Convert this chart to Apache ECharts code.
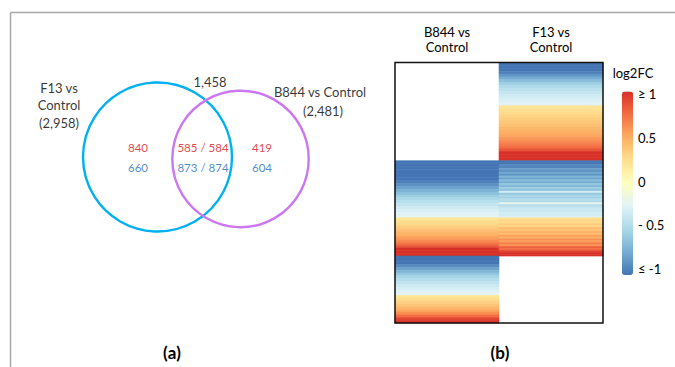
<!DOCTYPE html>
<html>
<head>
<meta charset="utf-8">
<script src="https://cdn.jsdelivr.net/npm/echarts@6/dist/echarts.min.js"></script>
<style>
html,body{margin:0;padding:0;background:#fff;}
#chart{width:675px;height:367px;}
</style>
</head>
<body>
<div id="chart"></div>
<script>
// ---------------- DATA ----------------
// Venn (a): sets and region counts (up = red, down = blue)
const setNames = ['F13 vs Control', 'B844 vs Control'];
const f13OnlyUp = 840, f13OnlyDown = 660;
const sharedUp = [585, 584];      // F13 / B844
const sharedDown = [873, 874];    // F13 / B844
const b844OnlyUp = 419, b844OnlyDown = 604;

// Heatmap (b): columns and sorted log2FC values (binned, read top -> bottom)
const heatColumns = ['B844 vs\nControl', 'F13 vs\nControl'];
// F13-only block, F13 column
const f13Only_F13_down = [-1, -1, -1, -0.95, -0.85, -0.75, -0.65, -0.55, -0.48, -0.42, -0.38, -0.34, -0.3, -0.27, -0.24];
const f13Only_F13_up = [0.22, 0.25, 0.28, 0.31, 0.34, 0.37, 0.4, 0.44, 0.48, 0.52, 0.57, 0.62, 0.68, 0.75, 0.85, 1, 1, 1];
// Shared block, B844 column (sorted)
const shared_B844_down = [-1, -1, -1, -1, -1, -1, -1, -0.95, -0.88, -0.8, -0.72, -0.64, -0.56, -0.5, -0.44, -0.38, -0.33, -0.29, -0.25, -0.22];
const shared_B844_up = [0.22, 0.26, 0.3, 0.35, 0.4, 0.45, 0.5, 0.56, 0.63, 0.72, 0.85, 1, 1, 1];
// Shared block, F13 column (same genes, streaky)
const shared_F13_down = [-1, -1, -0.9, -0.95, -0.8, -0.9, -0.75, -0.85, -0.7, -0.8, -0.65, -0.75, -0.6, -0.7, -0.55, -0.65, -0.3, -0.6, -0.5, -0.55, -0.45, -0.5, -0.2, -0.45, -0.4, -0.35, -0.38, -0.3, -0.32, -0.28];
const shared_F13_up = [0.25, 0.3, 0.28, 0.35, 0.3, 0.45, 0.38, 0.5, 0.42, 0.55, 0.48, 0.62, 0.55, 0.7, 0.6, 0.8, 0.75, 0.9, 1, 1];
// B844-only block, B844 column
const b844Only_B844_down = [-1, -1, -1, -0.9, -0.8, -0.7, -0.6, -0.52, -0.45, -0.4, -0.35, -0.3, -0.26, -0.22];
const b844Only_B844_up = [0.22, 0.27, 0.32, 0.38, 0.45, 0.52, 0.62, 0.75, 0.9, 1];

const legendTickValues = [-1, -0.5, 0, 0.5, 1];
const legendTickLabels = ['\u2264 -1', '- 0.5', '0', '0.5', '\u2265 1'];

// ---------------- BUILD ----------------
const FONT = 'Lato';
const f13Total = f13OnlyUp + f13OnlyDown + sharedUp[0] + sharedDown[0];
const b844Total = b844OnlyUp + b844OnlyDown + sharedUp[1] + sharedDown[1];
const sharedTotal = sharedUp[1] + sharedDown[1];
const fmt = n => n.toLocaleString('en-US');

// heatmap rows
const heatRects = [];
function addSegment(col, start, count, values) {
  const step = count / values.length;
  values.forEach((v, i) => heatRects.push([col, start + i * step, start + (i + 1) * step, v]));
}
let off = 0;
addSegment(1, off, f13OnlyDown, f13Only_F13_down);
addSegment(1, off + f13OnlyDown, f13OnlyUp, f13Only_F13_up);
off += f13OnlyDown + f13OnlyUp;
addSegment(0, off, sharedDown[1], shared_B844_down);
addSegment(0, off + sharedDown[1], sharedUp[1], shared_B844_up);
addSegment(1, off, sharedDown[1], shared_F13_down);
addSegment(1, off + sharedDown[1], sharedUp[1], shared_F13_up);
off += sharedTotal;
addSegment(0, off, b844OnlyDown, b844Only_B844_down);
addSegment(0, off + b844OnlyDown, b844OnlyUp, b844Only_B844_up);
off += b844OnlyDown + b844OnlyUp;
const totalRows = off;

// Venn layout (positions in the venn panel's coordinate space)
const vennLayout = {
  circles: [{ cx: 157.5, cy: 157, color: '#00b0f0' }, { cx: 240.5, cy: 159, color: '#cc77f2' }],
  circleScale: 149 / Math.sqrt(2958)
};
const RED = '#dc1216', BLUE = '#1f6dbd';
const vennLabels = [
  { v: [59, 105], text: 'F13 vs\nControl\n(' + fmt(f13Total) + ')', color: '#000', size: 13, lh: 17.5 },
  { v: [210, 82], text: fmt(sharedTotal), color: '#000', size: 13, lh: 16 },
  { v: [320, 92], text: 'B844 vs Control', color: '#000', size: 13, lh: 16 },
  { v: [323, 111], text: '(' + fmt(b844Total) + ')', color: '#000', size: 13, lh: 16 },
  { v: [138, 147], text: String(f13OnlyUp), color: RED, size: 11.5, lh: 14 },
  { v: [138, 167], text: String(f13OnlyDown), color: BLUE, size: 11.5, lh: 14 },
  { v: [203, 147], text: sharedUp[0] + ' / ' + sharedUp[1], color: RED, size: 11.5, lh: 14 },
  { v: [203, 167], text: sharedDown[0] + ' / ' + sharedDown[1], color: BLUE, size: 11.5, lh: 14 },
  { v: [262, 147], text: String(b844OnlyUp), color: RED, size: 11.5, lh: 14 },
  { v: [262, 167], text: String(b844OnlyDown), color: BLUE, size: 11.5, lh: 14 }
];

const panelLabel = (x, letter) => ({
  type: 'text', x: x, y: 352,
  style: { text: '{n|(}{b|' + letter + '}{n|)}', fontFamily: FONT, textAlign: 'center', textVerticalAlign: 'middle',
    rich: { n: { fontSize: 17, fontWeight: 'bold', fontFamily: FONT, fill: '#000' },
            b: { fontSize: 17, fontWeight: 'bold', fontFamily: FONT, fill: '#000' } } }
});

const chart = echarts.init(document.getElementById('chart'), null, { renderer: 'svg' });
chart.setOption({
  animation: false,
  backgroundColor: '#fff',
  textStyle: { fontFamily: FONT },
  grid: [
    { id: 'heat', left: 395, top: 62.5, width: 208, height: 260.5, show: true, borderColor: '#111', borderWidth: 1.5, backgroundColor: 'transparent', z: 10 },
    { id: 'venn', left: 0, top: 0, width: 675, height: 367 },
    { id: 'leg', left: 633, top: 94, width: 1, height: 175 }
  ],
  xAxis: [
    { gridIndex: 0, type: 'category', data: heatColumns, position: 'top',
      axisLine: { show: false }, axisTick: { show: false }, splitLine: { show: false },
      axisLabel: { margin: 8, fontSize: 13, lineHeight: 15, color: '#000', fontFamily: FONT } },
    { gridIndex: 1, type: 'value', min: 0, max: 675, show: false },
    { gridIndex: 2, type: 'value', min: 0, max: 1, show: false }
  ],
  yAxis: [
    { gridIndex: 0, type: 'value', min: 0, max: totalRows, inverse: true, show: false },
    { gridIndex: 1, type: 'value', min: 0, max: 367, inverse: true, show: false },
    { gridIndex: 2, type: 'value', min: -1, max: 1, interval: 0.5, position: 'right',
      axisLine: { show: false }, axisTick: { show: false }, splitLine: { show: false },
      axisLabel: { margin: 4, fontSize: 13, color: '#000', fontFamily: FONT,
        formatter: v => legendTickLabels[legendTickValues.indexOf(v)] } }
  ],
  visualMap: {
    type: 'continuous', min: -1, max: 1, dimension: 3, seriesIndex: 0,
    calculable: false, left: 622, top: 91.5, itemWidth: 11, itemHeight: 183.5, padding: 0,
    text: null, showLabel: false,
    inRange: { color: ['#4575b4', '#74add1', '#abd9e9', '#e0f3f8', '#ffffbf', '#fee090', '#fdae61', '#f46d43', '#d73027'] }
  },
  graphic: [
    { type: 'line', shape: { x1: 10.5, y1: 12.5, x2: 675, y2: 12.5 }, style: { stroke: '#a8a8a8', lineWidth: 1.5 } },
    { type: 'line', shape: { x1: 10.5, y1: 12.5, x2: 10.5, y2: 367 }, style: { stroke: '#a8a8a8', lineWidth: 1.5 } },
    { type: 'text', x: 633, y: 73, style: { text: 'log2FC', fontFamily: FONT, fontSize: 13, fill: '#000', textAlign: 'center', textVerticalAlign: 'middle' } },
    panelLabel(172, 'a'),
    panelLabel(500, 'b')
  ],
  series: [
    {
      type: 'custom', xAxisIndex: 0, yAxisIndex: 0, data: heatRects,
      dimensions: ['col', 'start', 'end', 'value'],
      encode: { x: 0, y: [1, 2] },
      renderItem: function (params, api) {
        const col = api.value(0);
        const p0 = api.coord([col, api.value(1)]);
        const p1 = api.coord([col, api.value(2)]);
        const w = api.size([1, 0])[0];
        const c = api.visual('color');
        return { type: 'rect', shape: { x: p0[0] - w / 2, y: p0[1], width: w, height: p1[1] - p0[1] },
          style: { fill: c, stroke: c, lineWidth: 0.6 } };
      }
    },
    {
      type: 'scatter', xAxisIndex: 1, yAxisIndex: 1, silent: true,
      data: [[vennLayout.circles[0].cx, vennLayout.circles[0].cy, f13Total]],
      symbolSize: d => vennLayout.circleScale * Math.sqrt(d[2]),
      itemStyle: { color: 'rgba(0,0,0,0)', borderColor: vennLayout.circles[0].color, borderWidth: 2.4, opacity: 1 }
    },
    {
      type: 'scatter', xAxisIndex: 1, yAxisIndex: 1, silent: true,
      data: [[vennLayout.circles[1].cx, vennLayout.circles[1].cy, b844Total]],
      symbolSize: d => vennLayout.circleScale * Math.sqrt(d[2]),
      itemStyle: { color: 'rgba(0,0,0,0)', borderColor: vennLayout.circles[1].color, borderWidth: 2.4, opacity: 1 }
    },
    {
      type: 'scatter', xAxisIndex: 1, yAxisIndex: 1, silent: true, symbolSize: 1,
      itemStyle: { color: 'rgba(0,0,0,0)' },
      data: vennLabels.map(l => ({
        value: l.v,
        label: { show: true, position: 'inside', formatter: l.text, color: l.color, fontSize: l.size, lineHeight: l.lh, fontFamily: FONT, align: 'center', verticalAlign: 'middle' }
      }))
    }
  ]
});
</script>
</body>
</html>
